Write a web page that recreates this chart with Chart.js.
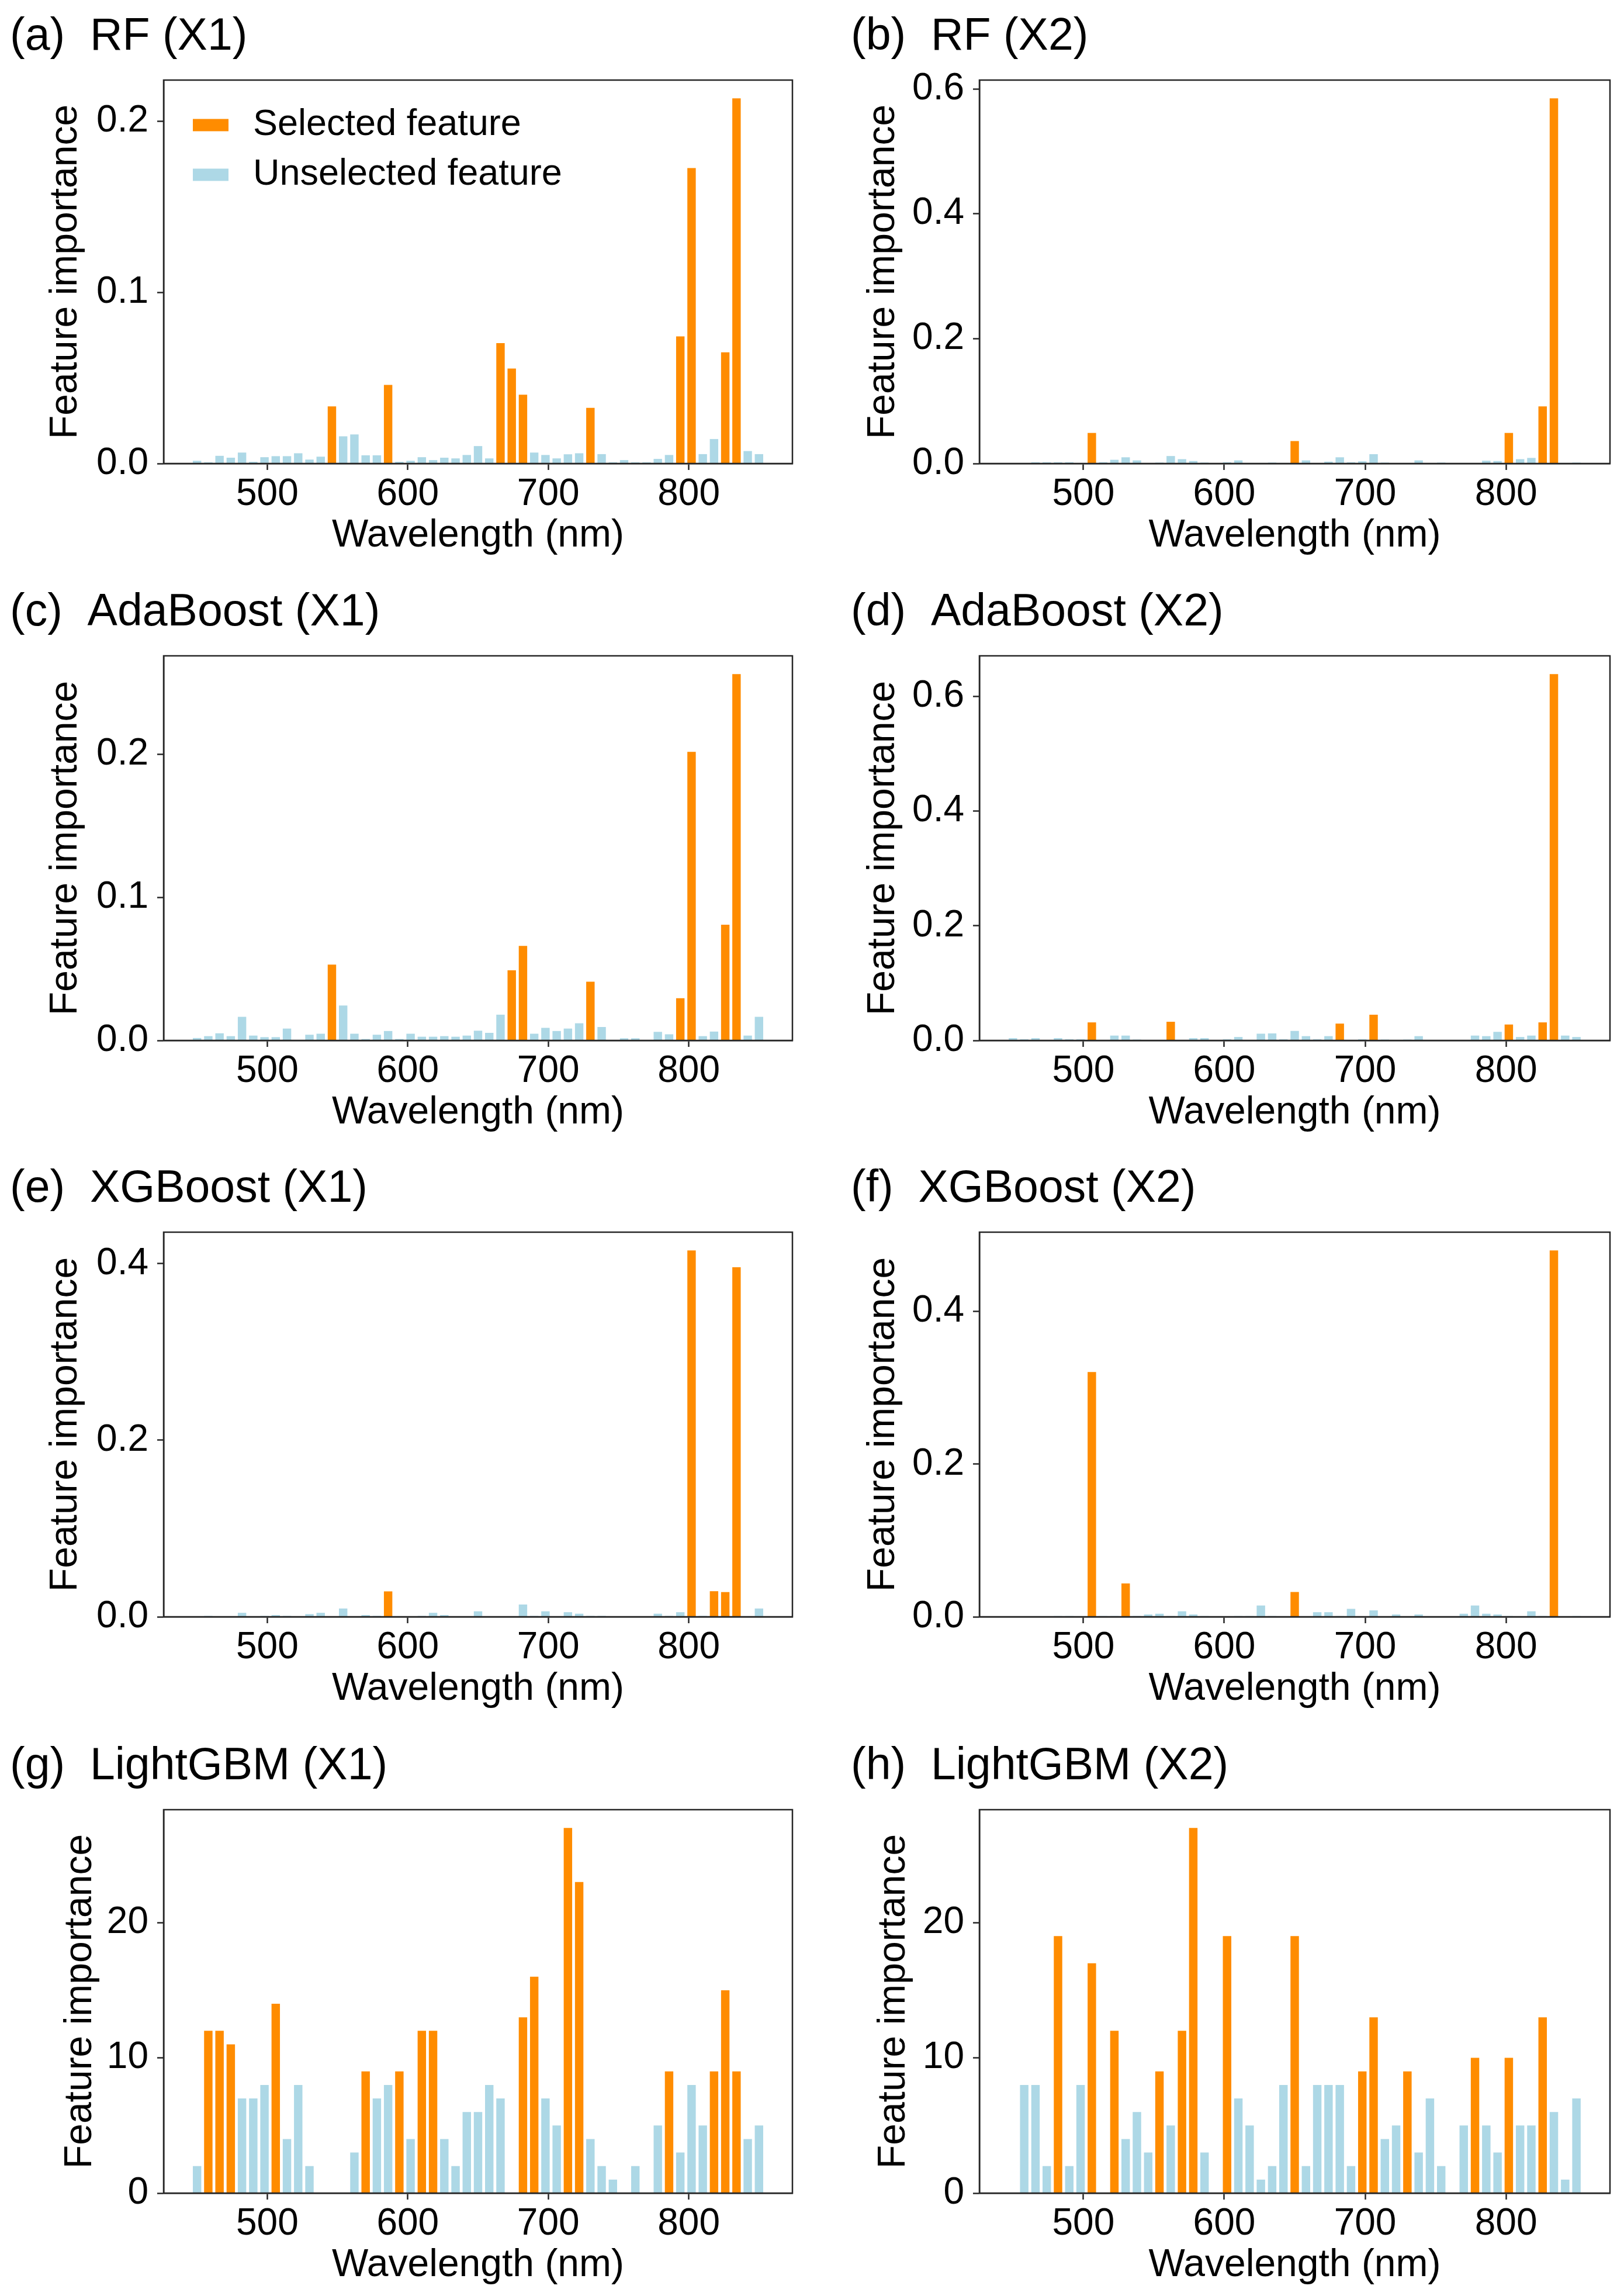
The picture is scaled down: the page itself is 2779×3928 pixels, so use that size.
<!DOCTYPE html>
<html>
<head>
<meta charset="utf-8">
<title>Feature importance</title>
<script src="https://cdn.jsdelivr.net/npm/chart.js@4.4.1/dist/chart.umd.min.js"></script>
<style>
html, body { margin: 0; padding: 0; background: #fff; width: 2779px; height: 3928px; overflow: hidden; }
canvas { position: absolute; }
</style>
</head>
<body>
<script>
var wavelengths = [450, 458, 466, 474, 482, 490, 498, 506, 514, 522, 530, 538, 546, 554, 562, 570, 578,
    586, 594, 602, 610, 618, 626, 634, 642, 650, 658, 666, 674, 682, 690, 698, 706, 714, 722, 730,
    738, 746, 754, 762, 770, 778, 786, 794, 802, 810, 818, 826, 834, 842, 850];

var rfX1 = [0.0016, 0.0007, 0.0045, 0.0034, 0.0064, 0.001, 0.0037, 0.0043, 0.0043, 0.006, 0.0023, 0.004,
    0.0334, 0.0159, 0.017, 0.0048, 0.0048, 0.0459, 0.001, 0.0016, 0.0037, 0.002, 0.0034, 0.003, 0.005,
    0.0102, 0.003, 0.0704, 0.0555, 0.0402, 0.0064, 0.005, 0.003, 0.0054, 0.006, 0.0325, 0.0055, 0.0007,
    0.002, 0.0007, 0.0007, 0.0027, 0.005, 0.0743, 0.1727, 0.0055, 0.0143, 0.065, 0.2134, 0.0073, 0.0055];
var rfX1Sel = [546, 586, 666, 674, 682, 730, 794, 802, 826, 834];

var rfX2 = [0, 0.001, 0.002, 0.002, 0.002, 0.002, 0, 0.049, 0.002, 0.006, 0.01, 0.005, 0, 0.0015, 0.012,
    0.007, 0.004, 0.0015, 0, 0.002, 0.005, 0.001, 0.001, 0.0015, 0.001, 0.036, 0.005, 0, 0.003, 0.01,
    0.002, 0.0035, 0.015, 0.0015, 0, 0.001, 0.005, 0, 0.0015, 0, 0.001, 0.001, 0.0045, 0.004, 0.049,
    0.007, 0.009, 0.0915, 0.585, 0.001, 0.0015];
var rfX2Sel = [506, 650, 802, 826, 834];

var adaX1 = [0.0017, 0.003, 0.005, 0.003, 0.0165, 0.0034, 0.0023, 0.0023, 0.0083, 0, 0.004, 0.0047,
    0.053, 0.0244, 0.0047, 0.001, 0.004, 0.0066, 0.001, 0.0047, 0.0026, 0.0026, 0.003, 0.0026, 0.0034,
    0.0068, 0.0053, 0.018, 0.049, 0.066, 0.0047, 0.0088, 0.0066, 0.0083, 0.012, 0.041, 0.0094, 0,
    0.0015, 0.0015, 0, 0.006, 0.0043, 0.0295, 0.2015, 0.003, 0.0062, 0.0808, 0.2558, 0.0034, 0.0165];
var adaX1Sel = [546, 674, 682, 730, 794, 802, 826, 834];

var adaX2 = [0.004, 0.002, 0.004, 0, 0.004, 0.002, 0.002, 0.0315, 0, 0.0085, 0.0085, 0.0015, 0, 0,
    0.0326, 0, 0.004, 0.004, 0, 0.002, 0.006, 0, 0.0118, 0.0123, 0.002, 0.0166, 0.0075, 0.002, 0.0075,
    0.0294, 0, 0.002, 0.0449, 0.0015, 0, 0.0015, 0.0075, 0, 0, 0, 0, 0.0085, 0.0075, 0.015, 0.0278,
    0.006, 0.0085, 0.0315, 0.639, 0.0085, 0.006];
var adaX2Sel = [506, 562, 682, 706, 802, 826, 834];

var xgbX1 = [0, 0.001, 0, 0, 0.0045, 0, 0.001, 0.002, 0.001, 0, 0.003, 0.0045, 0, 0.0094, 0, 0.002,
    0.001, 0.0288, 0, 0, 0.001, 0.0045, 0.002, 0, 0, 0.0062, 0, 0, 0, 0.0139, 0.001, 0.0062, 0, 0.0052,
    0.0035, 0.001, 0.001, 0, 0, 0, 0, 0.0035, 0.001, 0.0052, 0.415, 0.001, 0.029, 0.028, 0.396, 0, 0.0094];
var xgbX1Sel = [586, 802, 818, 826, 834];

var xgbX2 = [0, 0, 0, 0, 0.001, 0.001, 0, 0.3208, 0.001, 0.001, 0.0437, 0.001, 0.003, 0.004, 0.001,
    0.0072, 0.003, 0.001, 0, 0, 0.001, 0.001, 0.0148, 0.001, 0, 0.0325, 0, 0.006, 0.006, 0.001, 0.0104,
    0, 0.0084, 0, 0.003, 0, 0.003, 0, 0, 0, 0.004, 0.0148, 0.004, 0.003, 0.001, 0, 0.0072, 0.001, 0.48,
    0, 0.001];
var xgbX2Sel = [506, 530, 650, 834];

var lgbX1 = [2, 12, 12, 11, 7, 7, 8, 14, 4, 8, 2, 0, 0, 0, 3, 9, 7, 8, 9, 4, 12, 12, 4, 2, 6, 6, 8, 7,
    0, 13, 16, 7, 5, 27, 23, 4, 2, 1, 0, 2, 0, 5, 9, 3, 8, 5, 9, 15, 9, 4, 5];
var lgbX1Sel = [458, 466, 474, 506, 570, 594, 610, 618, 682, 690, 714, 722, 786, 818, 826, 834];

var lgbX2 = [0, 8, 8, 2, 19, 2, 8, 17, 0, 12, 4, 6, 3, 9, 5, 12, 27, 3, 0, 19, 7, 5, 1, 2, 8, 19, 2,
    8, 8, 8, 2, 9, 13, 4, 5, 9, 3, 7, 2, 0, 5, 10, 5, 3, 10, 5, 5, 13, 6, 1, 7];
var lgbX2Sel = [482, 506, 522, 554, 570, 578, 602, 650, 698, 706, 730, 778, 802, 826];

var xTicks = [500, 600, 700, 800];
var yTicksSmall = [0, 0.1, 0.2];
var yTicksMid = [0, 0.2, 0.4];
var yTicksBig = [0, 0.2, 0.4, 0.6];
var yTicksCount = [0, 10, 20];

var ORANGE = '#ff8c00';
var BLUE = '#add8e6';
var FONT = '"Liberation Sans", Arial, Helvetica, sans-serif';

Chart.defaults.font.family = FONT;
Chart.defaults.color = '#000';

var colLeft = [0, 1390];
var colWidth = [1390, 1389];
var rowTop = [0, 985, 1971, 2959];
var rowHeight = [985, 986, 988, 969];
var xAxisH = [192, 191, 193, 176];
var padLeft = [17, 66];
var padRight = [34, 24];
var yAxisW = [263, 220];

var panels = [
    {title: '(a)  RF (X1)', values: rfX1, sel: rfX1Sel, ticks: yTicksSmall, dec: 1, row: 0, col: 0, yPad: 56, legend: true},
    {title: '(b)  RF (X2)', values: rfX2, sel: rfX2Sel, ticks: yTicksBig, dec: 1, row: 0, col: 1, yPad: 16},
    {title: '(c)  AdaBoost (X1)', values: adaX1, sel: adaX1Sel, ticks: yTicksSmall, dec: 1, row: 1, col: 0, yPad: 56},
    {title: '(d)  AdaBoost (X2)', values: adaX2, sel: adaX2Sel, ticks: yTicksBig, dec: 1, row: 1, col: 1, yPad: 16},
    {title: '(e)  XGBoost (X1)', values: xgbX1, sel: xgbX1Sel, ticks: yTicksMid, dec: 1, row: 2, col: 0, yPad: 56},
    {title: '(f)  XGBoost (X2)', values: xgbX2, sel: xgbX2Sel, ticks: yTicksMid, dec: 1, row: 2, col: 1, yPad: 16},
    {title: '(g)  LightGBM (X1)', values: lgbX1, sel: lgbX1Sel, ticks: yTicksCount, dec: 0, row: 3, col: 0, yPad: 81},
    {title: '(h)  LightGBM (X2)', values: lgbX2, sel: lgbX2Sel, ticks: yTicksCount, dec: 0, row: 3, col: 1, yPad: 34}
];

// box around the plot area, like matplotlib spines
var framePlugin = {
    id: 'frame',
    afterDatasetsDraw: function (chart) {
        var a = chart.chartArea, c = chart.ctx;
        c.save();
        c.strokeStyle = '#262626';
        c.lineWidth = 2.5;
        c.strokeRect(a.left, a.top, a.right - a.left, a.bottom - a.top);
        c.restore();
    }
};

// legend drawn inside the axes, top left
var insideLegend = {
    id: 'insideLegend',
    afterDraw: function (chart) {
        var a = chart.chartArea, c = chart.ctx;
        c.save();
        chart.data.datasets.forEach(function (ds, i) {
            var cy = a.top + 77 + i * 85;
            c.fillStyle = ds.backgroundColor;
            c.fillRect(a.left + 50, cy - 10.5, 61, 21);
            c.fillStyle = '#000';
            c.font = '63px ' + FONT;
            c.textBaseline = 'middle';
            c.textAlign = 'left';
            c.fillText(ds.label, a.left + 153, cy);
        });
        c.restore();
    }
};

function splitData(values, selected) {
    var on = [], off = [];
    for (var i = 0; i < wavelengths.length; i++) {
        var isSel = selected.indexOf(wavelengths[i]) >= 0;
        on.push({x: wavelengths[i], y: isSel ? values[i] : null});
        off.push({x: wavelengths[i], y: isSel ? null : values[i]});
    }
    return [on, off];
}

function drawPanel(p) {
    var canvas = document.createElement('canvas');
    var w = colWidth[p.col], h = rowHeight[p.row];
    canvas.width = w;
    canvas.height = h;
    canvas.style.left = colLeft[p.col] + 'px';
    canvas.style.top = rowTop[p.row] + 'px';
    canvas.style.width = w + 'px';
    canvas.style.height = h + 'px';
    document.body.appendChild(canvas);

    var parts = splitData(p.values, p.sel);
    var ymax = Math.max.apply(null, p.values) * 1.05;
    var axisH = xAxisH[p.row];
    var tickGrid = {drawOnChartArea: false, drawTicks: true, tickLength: 11, tickWidth: 2.5, tickColor: '#262626', offset: false};

    new Chart(canvas.getContext('2d'), {
        type: 'bar',
        data: {
            datasets: [
                {label: 'Selected feature', data: parts[0], backgroundColor: ORANGE, borderWidth: 0,
                    grouped: false, categoryPercentage: 1, barPercentage: 0.75},
                {label: 'Unselected feature', data: parts[1], backgroundColor: BLUE, borderWidth: 0,
                    grouped: false, categoryPercentage: 1, barPercentage: 0.75}
            ]
        },
        options: {
            responsive: false,
            animation: false,
            devicePixelRatio: 1,
            layout: {padding: {left: padLeft[p.col], right: padRight[p.col], top: 0, bottom: 0}},
            plugins: {
                legend: {display: false},
                tooltip: {enabled: false},
                title: {display: true, text: p.title, align: 'start', color: '#000',
                    font: {size: 77, weight: 'normal'}, padding: {top: 18, bottom: 26.6}}
            },
            scales: {
                x: {
                    type: 'linear', min: 426.2, max: 873.8, offset: false,
                    afterBuildTicks: function (s) { s.ticks = xTicks.map(function (v) { return {value: v}; }); },
                    afterFit: function (s) { s.height = axisH; },
                    ticks: {font: {size: 64}, padding: 4, color: '#000', maxRotation: 0, autoSkip: false,
                        callback: function (v) { return String(v); }},
                    grid: tickGrid,
                    border: {display: true, color: '#262626', width: 2.5},
                    title: {display: true, text: 'Wavelength (nm)', color: '#000', font: {size: 66},
                        padding: {top: 0, bottom: axisH - 124 - 39.6}}
                },
                y: {
                    min: 0, max: ymax,
                    afterBuildTicks: function (s) { s.ticks = p.ticks.map(function (v) { return {value: v}; }); },
                    afterFit: function (s) { s.width = yAxisW[p.col]; },
                    ticks: {font: {size: 64}, padding: 15, color: '#000',
                        callback: function (v) { return v.toFixed(p.dec); }},
                    grid: tickGrid,
                    border: {display: true, color: '#262626', width: 2.5},
                    title: {display: true, text: 'Feature importance', color: '#000', font: {size: 66},
                        padding: {top: p.yPad, bottom: 0}}
                }
            }
        },
        plugins: p.legend ? [framePlugin, insideLegend] : [framePlugin]
    });
}

panels.forEach(drawPanel);
</script>
</body>
</html>
